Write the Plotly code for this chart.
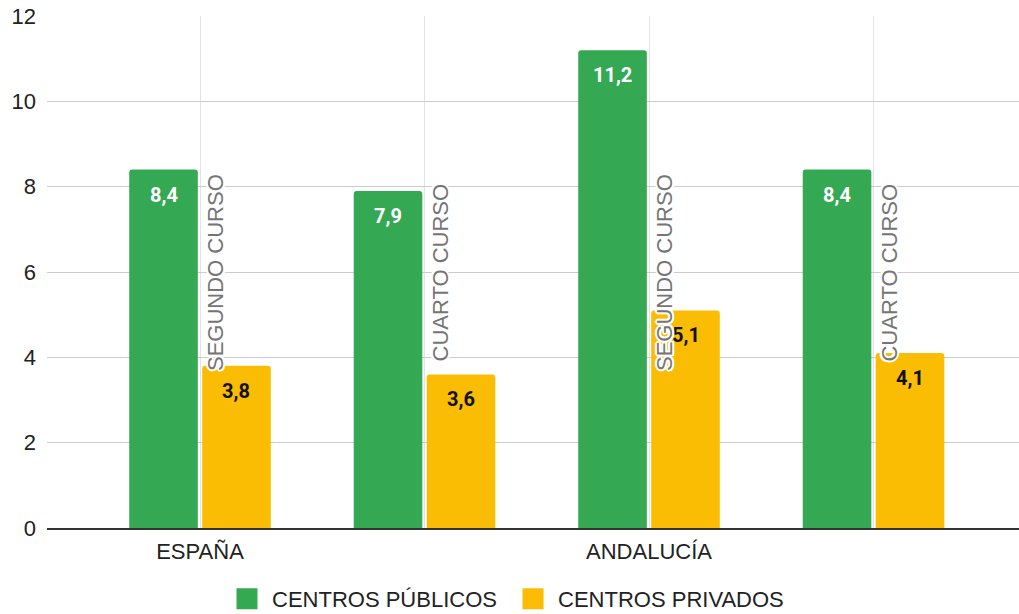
import plotly.graph_objects as go

regions = ["ESPAÑA", "ESPAÑA", "ANDALUCÍA", "ANDALUCÍA"]
cursos = ["SEGUNDO CURSO", "CUARTO CURSO", "SEGUNDO CURSO", "CUARTO CURSO"]
publicos = [8.4, 7.9, 11.2, 8.4]
privados = [3.8, 3.6, 5.1, 4.1]
series_names = ["CENTROS PÚBLICOS", "CENTROS PRIVADOS"]
y_ticks = [0, 2, 4, 6, 8, 10, 12]

GREEN = "#34a853"
YELLOW = "#fbbc04"
ARIAL = "Liberation Sans, Arial, sans-serif"
ROBOTO = "Roboto, sans-serif"

def fmt(v):
    return f"{v:.1f}".replace(".", ",")

x = list(range(len(cursos)))
bargap = 0.35
bargroupgap = 0.06
slot = (1 - bargap) / 2

fig = go.Figure()
fig.add_trace(go.Bar(x=x, y=publicos, name=series_names[0], marker_color=GREEN,
                     marker_line_width=0, showlegend=False, hoverinfo="skip"))
fig.add_trace(go.Bar(x=x, y=privados, name=series_names[1], marker_color=YELLOW,
                     marker_line_width=0, showlegend=False, hoverinfo="skip"))
# legend entries
legend_labels = [series_names[0] + "\u00a0", series_names[1]]
for nm, col in zip(legend_labels, [GREEN, YELLOW]):
    fig.add_trace(go.Scatter(x=[None], y=[None], mode="markers", name=nm,
                             marker=dict(symbol="square", size=16, color=col,
                                         line=dict(color=col, width=5))))

annotations = []
# value labels
for i, v in enumerate(publicos):
    annotations.append(dict(x=i - slot / 2, y=v, text=fmt(v), showarrow=False,
                            yanchor="top", yshift=-11,
                            font=dict(family=ROBOTO, size=20, color="white", weight="bold")))
for i, v in enumerate(privados):
    annotations.append(dict(x=i + slot / 2, y=v, text=fmt(v), showarrow=False,
                            yanchor="top", yshift=-11,
                            font=dict(family=ROBOTO, size=20, color="#111111", weight="bold")))
# rotated course labels
for i, c in enumerate(cursos):
    annotations.append(dict(x=i, y=y_ticks[-1] / 2, text=c, showarrow=False, textangle=-90,
                            xshift=15, yshift=-1,
                            font=dict(family=ARIAL, size=22, color="#757575",
                                      shadow="-1.5px -1.5px 0 #fff, 1.5px -1.5px 0 #fff, -1.5px 1.5px 0 #fff, 1.5px 1.5px 0 #fff, 0 2px 0 #fff, 0 -2px 0 #fff, 2px 0 0 #fff, -2px 0 0 #fff")))

ticktext = [r if (i == 0 or regions[i - 1] != r) else "" for i, r in enumerate(regions)]

fig.update_layout(
    width=1019, height=614,
    margin=dict(l=47, r=0, t=16, b=86),
    paper_bgcolor="white", plot_bgcolor="white",
    barmode="group", bargap=bargap, bargroupgap=bargroupgap,
    barcornerradius=3,
    annotations=annotations,
    showlegend=True,
    legend=dict(orientation="h", xref="container", yref="container", x=0.5 - 4 / 1019, y=15 / 614,
                xanchor="center", yanchor="middle",
                font=dict(family=ARIAL, size=22, color="#222222"),
                itemwidth=40, tracegroupgap=0),
    xaxis=dict(range=[-0.6815, 3.648], tickvals=x, ticktext=ticktext,
               showgrid=True, gridcolor="#e3e3e3", gridwidth=1,
               showline=True, linecolor="#333333", linewidth=1.5,
               ticks="", ticklabelstandoff=3,
               tickfont=dict(family=ARIAL, size=22, color="#222222"), zeroline=False),
    yaxis=dict(range=[0, 12], tickvals=y_ticks, showgrid=True, gridcolor="#cccccc",
               gridwidth=1, zeroline=False, showline=False, ticks="",
               ticklabelstandoff=10,
               tickfont=dict(family=ARIAL, size=22, color="#222222")),
)

fig.write_html("out.html", config={"displayModeBar": False},
               post_script="document.body.style.margin='0';document.body.style.overflow='hidden';")
